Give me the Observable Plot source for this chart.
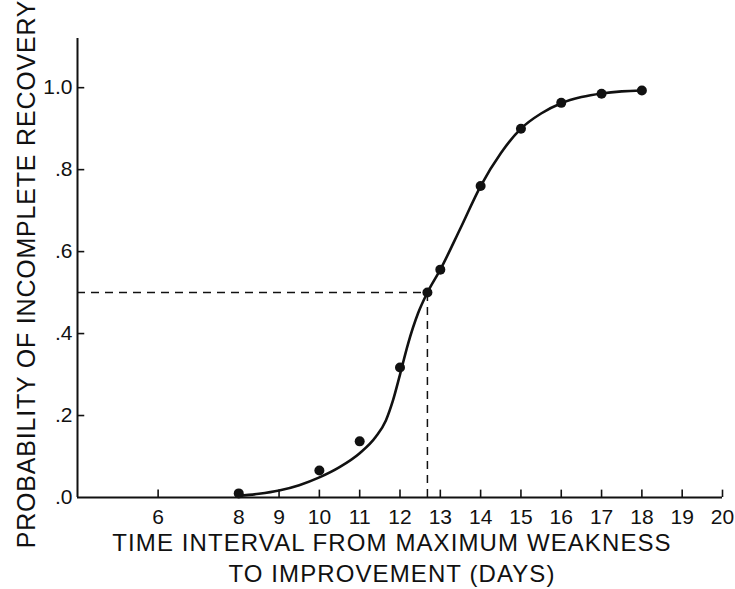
<!DOCTYPE html>
<html>
<head>
<meta charset="utf-8">
<script src="https://cdn.jsdelivr.net/npm/d3@7"></script>
<script src="https://cdn.jsdelivr.net/npm/@observablehq/plot@0.6"></script>
<style>
  html, body { margin: 0; padding: 0; background: #fff; }
  #chart svg { display: block; }
</style>
</head>
<body>
<div id="chart"></div>
<script>
// Observed points (days, probability of incomplete recovery)
const days  = [8, 10, 11, 12, 12.68, 13, 14, 15, 16, 17, 18];
const probs = [0.01, 0.066, 0.137, 0.317, 0.5, 0.556, 0.76, 0.90, 0.963, 0.985, 0.993];

// Fitted curve
const curveDays  = [8, 8.5, 9, 9.5, 10, 10.5, 11, 11.4, 11.65, 11.82, 12, 12.2, 12.45, 12.68, 13, 13.5, 14, 14.5, 15, 15.5, 16, 16.5, 17, 17.5, 18];
const curveProbs = [0.004, 0.009, 0.017, 0.03, 0.049, 0.074, 0.108, 0.148, 0.188, 0.235, 0.3, 0.375, 0.45, 0.5, 0.556, 0.657, 0.76, 0.84, 0.9, 0.937, 0.962, 0.977, 0.986, 0.991, 0.993];

// Median reference (dashed lines)
const medianDay = 12.68;
const medianProb = 0.5;

// Axes
const xTicks = [6, 8, 9, 10, 11, 12, 13, 14, 15, 16, 17, 18, 19, 20];
const yTicks = [0, 0.2, 0.4, 0.6, 0.8, 1.0];
const yTickLabels = [".0", ".2", ".4", ".6", ".8", "1.0"];
const xTitle = "TIME INTERVAL FROM MAXIMUM WEAKNESS\nTO IMPROVEMENT (DAYS)";
const yTitle = "PROBABILITY OF INCOMPLETE RECOVERY";

const points = days.map((d, i) => ({day: d, p: probs[i]}));
const curve = curveDays.map((d, i) => ({day: d, p: curveProbs[i]}));
const ink = "#111";

const chart = Plot.plot({
  width: 735,
  height: 589,
  marginLeft: 77,
  marginRight: 13,
  marginTop: 38,
  marginBottom: 92,
  style: {fontFamily: "'Liberation Sans', Arial, sans-serif", fontSize: "21px", color: ink, background: "#fff"},
  x: {domain: [4, 20], ticks: xTicks, tickSize: 0, tickPadding: 12, tickFormat: d => String(d), label: null},
  y: {domain: [0, 1.12], ticks: yTicks, tickSize: 0, tickPadding: 5, tickFormat: d => yTickLabels[yTicks.indexOf(d)], label: null},
  marks: [
    // axis lines
    Plot.ruleY([0], {stroke: ink, strokeWidth: 2}),
    Plot.ruleX([4], {stroke: ink, strokeWidth: 2}),
    // inward tick marks
    Plot.ruleX(xTicks, {x: d => d, y1: 0, y2: 0.018, stroke: ink, strokeWidth: 1.6}),
    Plot.ruleY(yTicks.filter(d => d > 0), {y: d => d, x1: 4, x2: 4.18, stroke: ink, strokeWidth: 1.6}),
    // dashed median guides
    Plot.ruleY([medianProb], {x1: 4, x2: medianDay, stroke: ink, strokeWidth: 1.5, strokeDasharray: "8,6"}),
    Plot.ruleX([medianDay], {y1: 0, y2: medianProb, stroke: ink, strokeWidth: 1.5, strokeDasharray: "8,6"}),
    // fitted curve
    Plot.line(curve, {x: "day", y: "p", curve: "monotone-x", stroke: ink, strokeWidth: 2.6}),
    // observations
    Plot.dot(points, {x: "day", y: "p", r: 5, fill: ink, stroke: "none"}),
    // axis titles
    Plot.text([xTitle], {frameAnchor: "bottom", lineAnchor: "middle", lineHeight: 1.3, dy: 59, dx: -8, fontSize: 24, fill: ink}),
    Plot.text([yTitle], {frameAnchor: "left", rotate: -90, textAnchor: "middle", dx: -51, dy: 6, fontSize: 25, fill: ink})
  ]
});
d3.select(chart).selectAll("text").each(function() {
  const t = this.textContent || "";
  if (t.startsWith("PROBABILITY")) this.setAttribute("letter-spacing", "0.8");
  else if (t.startsWith("TIME")) this.setAttribute("letter-spacing", "1.1");
});
document.getElementById("chart").appendChild(chart);
</script>
</body>
</html>
